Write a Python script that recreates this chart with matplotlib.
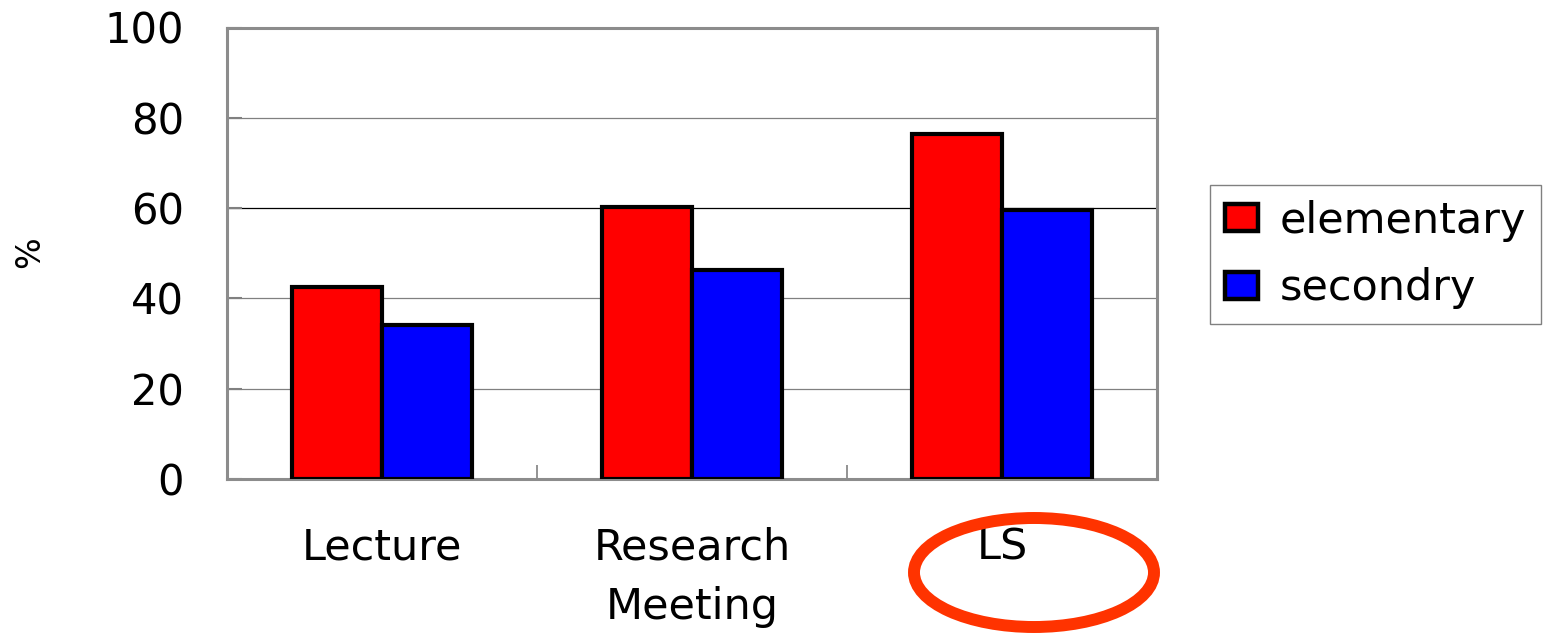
import matplotlib
matplotlib.use("Agg")
import matplotlib.pyplot as plt
from matplotlib.patches import Patch, Ellipse
import numpy as np

categories = ["Lecture", "Research\nMeeting", "LS"]
elementary = [42.6, 60.3, 76.5]
secondary = [34.1, 46.3, 59.5]
series_names = ["elementary", "secondry"]
y_ticks = [0, 20, 40, 60, 80, 100]

plt.rcParams['font.family'] = ['DejaVu Sans']
FS = 30

fig = plt.figure(figsize=(15.62, 6.4), dpi=100)
W, H = 1562, 640
ax = fig.add_axes([227 / W, 1 - 479 / H, (1157 - 227) / W, (479 - 27.5) / H])

x = np.arange(len(categories))
bw = 0.29
ax.bar(x - bw / 2, elementary, bw, color="#FF0000", edgecolor="black", linewidth=3, zorder=3)
ax.bar(x + bw / 2, secondary, bw, color="#0000FF", edgecolor="black", linewidth=3, zorder=3)

ax.set_xlim(-0.5, len(categories) - 0.5)
ax.set_ylim(0, 100)

# horizontal gridlines
for v in y_ticks[1:-1]:
    ax.axhline(v, color="black" if v == 60 else "#808080", lw=0.9, zorder=1)

for s in ax.spines.values():
    s.set_color("#8c8c8c")
    s.set_linewidth(2.2)

ax.set_yticks(y_ticks)
ax.set_yticklabels([str(v) for v in y_ticks], fontsize=FS)
ax.tick_params(axis="y", direction="in", length=11, width=1.5, color="#808080", pad=31)

ax.set_xticks(x)
ax.set_xticklabels(categories, fontsize=31, linespacing=1.55)
ax.tick_params(axis="x", which="major", length=0, pad=34)
ax.set_xticks(np.arange(0.5, len(categories) - 0.5, 1), minor=True)
ax.tick_params(axis="x", which="minor", direction="in", length=10, width=1.2, color="#808080")

fig.text(30 / W, 1 - 252 / H, "%", rotation=90, fontsize=24, ha="center", va="center")

handles = [Patch(facecolor="#FF0000", edgecolor="black", linewidth=3.2),
           Patch(facecolor="#0000FF", edgecolor="black", linewidth=3.2)]
leg = fig.legend(handles, series_names, loc="upper left",
                 bbox_to_anchor=(1210 / W, 1 - 185 / H),
                 fontsize=31, frameon=True, fancybox=False, shadow=False,
                 handlelength=0.78, handleheight=0.58, handletextpad=0.5,
                 borderpad=0.34, labelspacing=0.6, borderaxespad=0)
leg.get_frame().set_edgecolor("#606060")
leg.get_frame().set_linewidth(1.0)

fig.add_artist(Ellipse((1034 / W, 1 - 572.5 / H), 240 / W, 109 / H,
                       transform=fig.transFigure, fill=False,
                       edgecolor="#FF3300", linewidth=8.6))

fig.savefig("out.png", dpi=100)
